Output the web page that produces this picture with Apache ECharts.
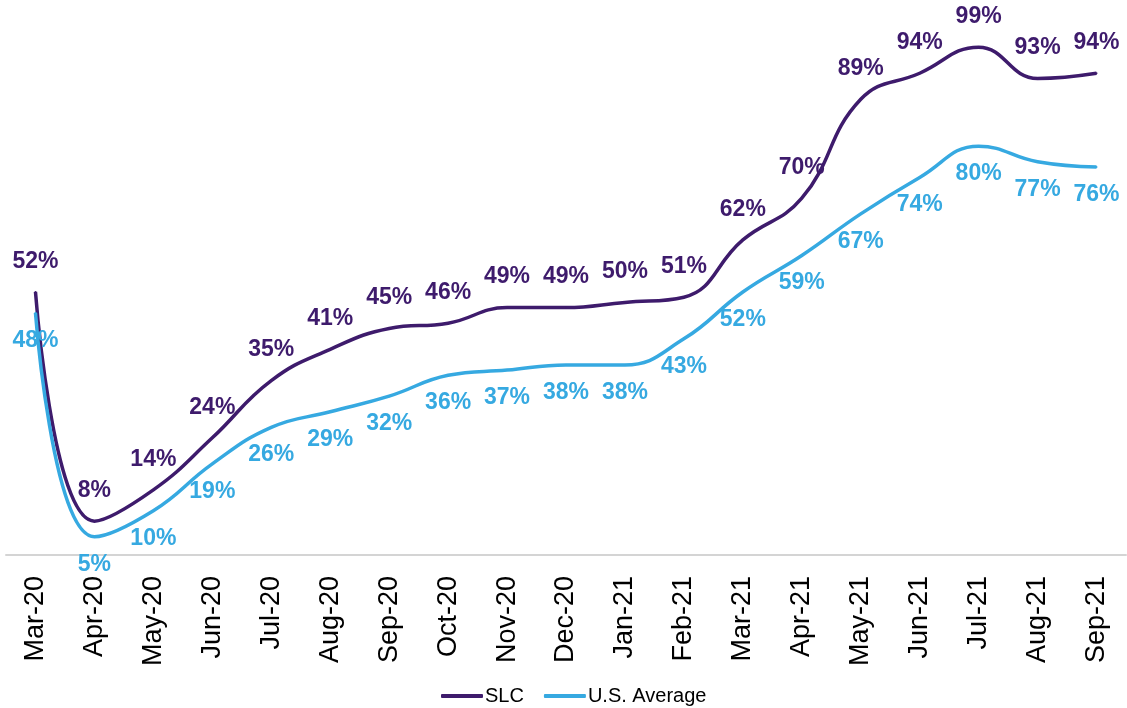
<!DOCTYPE html>
<html><head><meta charset="utf-8">
<script src="https://cdn.jsdelivr.net/npm/echarts@6/dist/echarts.min.js"></script>
<style>html,body{margin:0;padding:0;background:#fff}#c{width:1127px;height:708px}</style>
</head><body><div id="c"></div>
<script>
const categories = ['Mar-20','Apr-20','May-20','Jun-20','Jul-20','Aug-20','Sep-20','Oct-20','Nov-20','Dec-20','Jan-21','Feb-21','Mar-21','Apr-21','May-21','Jun-21','Jul-21','Aug-21','Sep-21'];
const slc = [52, 8, 14, 24, 35, 41, 45, 46, 49, 49, 50, 51, 62, 70, 89, 94, 99, 93, 94];
const usAvg = [48, 5, 10, 19, 26, 29, 32, 36, 37, 38, 38, 43, 52, 59, 67, 74, 80, 77, 76];

const NARROW = "'Liberation Sans Narrow', 'Arial Narrow', 'Liberation Sans', Arial, sans-serif";
const PURPLE = '#3e1b6c';
const BLUE = '#36a9e1';

const chart = echarts.init(document.getElementById('c'));
chart.setOption({
  animation: false,
  backgroundColor: '#fff',
  grid: {left: 6, right: 1, top: 42, bottom: 153, containLabel: false},
  legend: {
    bottom: -3, left: 436,
    itemWidth: 42, itemHeight: 4, itemGap: 20,
    icon: 'roundRect',
    textStyle: {fontFamily: NARROW, fontSize: 20, color: '#000', padding: [0, 0, 0, -3]},
    data: ['SLC', 'U.S. Average']
  },
  xAxis: {
    type: 'category', data: categories, boundaryGap: true,
    axisLine: {lineStyle: {color: '#d4d4d4', width: 2}},
    axisTick: {show: false},
    axisLabel: {rotate: 90, margin: 21, fontFamily: NARROW, fontSize: 27, color: '#000', interval: 0}
  },
  yAxis: {
    type: 'value', min: 1.5, max: 100, show: false,
    splitLine: {show: false}
  },
  series: [
    {
      name: 'SLC', type: 'line', data: slc, smooth: 0.45,
      symbol: 'circle', symbolSize: 2,
      lineStyle: {color: PURPLE, width: 3.5},
      itemStyle: {color: PURPLE},
      label: {show: true, position: 'top', distance: 18, formatter: '{c}%',
        fontFamily: NARROW, fontWeight: 'bold', fontSize: 23, color: PURPLE}
    },
    {
      name: 'U.S. Average', type: 'line', data: usAvg, smooth: 0.45,
      symbol: 'circle', symbolSize: 2,
      lineStyle: {color: BLUE, width: 3.5},
      itemStyle: {color: BLUE},
      label: {show: true, position: 'bottom', distance: 15, formatter: '{c}%',
        fontFamily: NARROW, fontWeight: 'bold', fontSize: 23, color: BLUE}
    }
  ]
});
</script></body></html>
